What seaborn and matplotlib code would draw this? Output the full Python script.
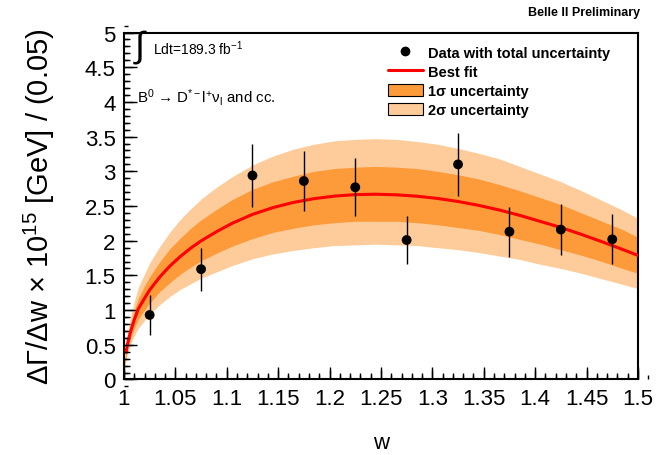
import numpy as np
import pandas as pd
import seaborn as sns
import matplotlib.pyplot as plt
from matplotlib.lines import Line2D
from matplotlib.patches import Patch
from matplotlib.ticker import MultipleLocator, FixedLocator, FixedFormatter

# measured points (bin centres, values, total uncertainty)
w_data = [1.025, 1.075, 1.125, 1.175, 1.225, 1.275, 1.325, 1.375, 1.425, 1.475]
rate_data = [0.93, 1.59, 2.94, 2.86, 2.77, 2.01, 3.10, 2.13, 2.16, 2.02]
rate_err = [0.29, 0.31, 0.46, 0.43, 0.42, 0.35, 0.45, 0.36, 0.37, 0.36]

# best fit curve and its 1 and 2 sigma bands
w_fit = [1.0, 1.001, 1.002, 1.003, 1.005, 1.007, 1.01, 1.014, 1.02, 1.025,
         1.035, 1.045, 1.055, 1.065, 1.075, 1.09, 1.105, 1.125, 1.145, 1.165,
         1.185, 1.205, 1.225, 1.245, 1.265, 1.285, 1.305, 1.325, 1.345, 1.365,
         1.385, 1.405, 1.425, 1.445, 1.465, 1.485, 1.5]
fit = [0.16, 0.28, 0.39, 0.48, 0.61, 0.72, 0.86, 1.02, 1.17, 1.29,
       1.48, 1.64, 1.775, 1.893, 1.997, 2.13, 2.249, 2.379, 2.477, 2.552,
       2.606, 2.643, 2.664, 2.670, 2.661, 2.641, 2.609, 2.565, 2.509, 2.443,
       2.365, 2.278, 2.19, 2.091, 1.985, 1.874, 1.788]
sig1_lo = [0.14, 0.24, 0.33, 0.41, 0.52, 0.62, 0.74, 0.87, 1.00, 1.10,
           1.27, 1.40, 1.52, 1.62, 1.71, 1.82, 1.92, 2.03, 2.12, 2.18,
           2.23, 2.26, 2.28, 2.28, 2.28, 2.26, 2.23, 2.19, 2.15, 2.09,
           2.02, 1.95, 1.87, 1.79, 1.70, 1.60, 1.53]
sig1_hi = [0.18, 0.32, 0.45, 0.55, 0.70, 0.83, 0.99, 1.17, 1.35, 1.48,
           1.70, 1.89, 2.04, 2.18, 2.30, 2.45, 2.59, 2.74, 2.85, 2.93,
           3.00, 3.04, 3.06, 3.07, 3.06, 3.04, 3.00, 2.95, 2.89, 2.81,
           2.72, 2.62, 2.52, 2.40, 2.28, 2.16, 2.05]
sig2_lo = [0.12, 0.20, 0.28, 0.35, 0.45, 0.53, 0.63, 0.74, 0.85, 0.94,
           1.08, 1.20, 1.30, 1.38, 1.46, 1.55, 1.64, 1.74, 1.81, 1.86,
           1.90, 1.93, 1.94, 1.95, 1.94, 1.93, 1.90, 1.87, 1.83, 1.78,
           1.73, 1.66, 1.60, 1.53, 1.45, 1.37, 1.31]
sig2_hi = [0.21, 0.36, 0.51, 0.62, 0.79, 0.94, 1.12, 1.33, 1.52, 1.68,
           1.92, 2.13, 2.31, 2.46, 2.60, 2.77, 2.92, 3.09, 3.22, 3.32,
           3.39, 3.44, 3.46, 3.47, 3.46, 3.43, 3.39, 3.33, 3.26, 3.18,
           3.07, 2.96, 2.85, 2.72, 2.58, 2.44, 2.32]

x_ticks = [1.0, 1.05, 1.1, 1.15, 1.2, 1.25, 1.3, 1.35, 1.4, 1.45, 1.5]
x_tick_labels = ['1', '1.05', '1.1', '1.15', '1.2', '1.25', '1.3', '1.35', '1.4', '1.45', '1.5']
y_ticks = [0, 0.5, 1, 1.5, 2, 2.5, 3, 3.5, 4, 4.5, 5]
y_tick_labels = ['0', '0.5', '1', '1.5', '2', '2.5', '3', '3.5', '4', '4.5', '5']

DARK = '#fd9a3a'
LIGHT = '#fecc9a'


def style_axis(ax):
    ax.set_xlim(1.0, 1.5)
    ax.set_ylim(0, 5)
    ax.xaxis.set_major_locator(FixedLocator(x_ticks))
    ax.xaxis.set_major_formatter(FixedFormatter(x_tick_labels))
    ax.yaxis.set_major_locator(FixedLocator(y_ticks))
    ax.yaxis.set_major_formatter(FixedFormatter(y_tick_labels))
    ax.xaxis.set_minor_locator(MultipleLocator(0.01))
    ax.yaxis.set_minor_locator(MultipleLocator(0.1))

    ax.tick_params(axis='both', which='major', length=9, width=1.0, direction='in',
                   labelsize=16, color='black', labelcolor='black', pad=6,
                   bottom=True, left=True, top=False, right=False)
    ax.tick_params(axis='both', which='minor', length=4.5, width=1.0, direction='in',
                   color='black', bottom=True, left=True, top=False, right=False)

    for spine in ax.spines.values():
        spine.set_linewidth(1.5)
        spine.set_color('black')
    ax.set_axisbelow(False)
    return ax


def redraw_ticks(ax, fig):
    # tick marks as plain line segments, positions taken from the axis locators
    bbox = ax.get_window_extent()
    major_px, minor_px = 9.0, 4.5
    xt = ax.get_xaxis_transform()
    yt = ax.get_yaxis_transform()
    ax.vlines(ax.xaxis.get_majorticklocs(), 0, major_px / bbox.height,
              colors='black', lw=1.0, transform=xt, clip_on=False, zorder=6)
    ax.vlines(ax.xaxis.get_minorticklocs(), 0, minor_px / bbox.height,
              colors='black', lw=1.0, transform=xt, clip_on=False, zorder=6)
    ax.hlines(ax.yaxis.get_majorticklocs(), 0, major_px / bbox.width,
              colors='black', lw=1.0, transform=yt, clip_on=False, zorder=6)
    ax.hlines(ax.yaxis.get_minorticklocs(), 0, minor_px / bbox.width,
              colors='black', lw=1.0, transform=yt, clip_on=False, zorder=6)


def main():
    sns.set_theme(style='ticks', rc={'xtick.direction': 'in', 'ytick.direction': 'in',
                                     'axes.axisbelow': False})
    plt.rcParams['font.family'] = ['Liberation Sans', 'DejaVu Sans']
    plt.rcParams['mathtext.fontset'] = 'custom'
    plt.rcParams['mathtext.rm'] = 'Liberation Sans'
    plt.rcParams['mathtext.it'] = 'Liberation Sans:italic'
    plt.rcParams['mathtext.bf'] = 'Liberation Sans:bold'

    fit_df = pd.DataFrame({'w': w_fit, 'fit': fit})
    data_df = pd.DataFrame({'w': w_data, 'rate': rate_data, 'err': rate_err})

    fig = plt.figure(figsize=(6.57, 4.56), dpi=100)
    ax = fig.add_axes([0.1887, 0.1656, 0.7823, 0.7609])

    ax.fill_between(w_fit, sig2_lo, sig2_hi, color=LIGHT, lw=0, zorder=1)
    ax.fill_between(w_fit, sig1_lo, sig1_hi, color=DARK, lw=0, zorder=2)
    # the drawn line starts just after w = 1
    sns.lineplot(data=fit_df.iloc[2:], x='w', y='fit', color='red', lw=2.2,
                 ax=ax, zorder=3)

    ax.errorbar(data_df['w'], data_df['rate'], yerr=data_df['err'], fmt='none',
                ecolor='black', elinewidth=1.0, capsize=0, zorder=4)
    sns.scatterplot(data=data_df, x='w', y='rate', color='black', s=50,
                    edgecolor='none', ax=ax, zorder=5)

    style_axis(ax)
    redraw_ticks(ax, fig)
    ax.set_xlim(1.0, 1.5)
    ax.set_ylim(0, 5)

    ax.set_xlabel('w', fontsize=16, labelpad=17, color='black')
    ax.set_ylabel(r'ΔΓ/Δw × 10$^{15}$ [GeV] / (0.05)', fontsize=21, labelpad=20,
                  color='black')

    # luminosity and decay labels
    ax.text(0.021, 0.962, '∫', transform=ax.transAxes, fontsize=26,
            ha='left', va='center', color='black')
    ax.text(0.056, 0.955, r'Ldt=189.3 fb$^{-1}$', transform=ax.transAxes,
            fontsize=10, ha='left', va='center', color='black')
    ax.text(0.025, 0.815, r'B$^{0}$ → D$^{*-}$l$^{+}$ν$_{\mathrm{l}}$ and cc.',
            transform=ax.transAxes, fontsize=10.8, ha='left', va='center',
            color='black')

    fig.text(0.975, 0.972, 'Belle II Preliminary', fontsize=9, fontweight='bold',
             ha='right', va='center', color='black')

    handles = [
        Line2D([], [], ls='none', marker='o', color='black', markersize=6),
        Line2D([], [], color='red', lw=2.2),
        Patch(facecolor=DARK, edgecolor='black', lw=0.8),
        Patch(facecolor=LIGHT, edgecolor='black', lw=0.8),
    ]
    labels = ['Data with total uncertainty', 'Best fit', '1σ uncertainty', '2σ uncertainty']
    leg = ax.legend(handles, labels, loc='upper left', bbox_to_anchor=(0.508, 0.97),
                    frameon=False, prop={'weight': 'bold', 'size': 10.5},
                    handlelength=2.4, handleheight=0.95, handletextpad=0.35,
                    labelspacing=0.32, borderpad=0.2, borderaxespad=0)
    for txt in leg.get_texts():
        txt.set_color('black')

    fig.savefig('out.png', dpi=100, facecolor='white')
    plt.close(fig)


if __name__ == '__main__':
    main()
